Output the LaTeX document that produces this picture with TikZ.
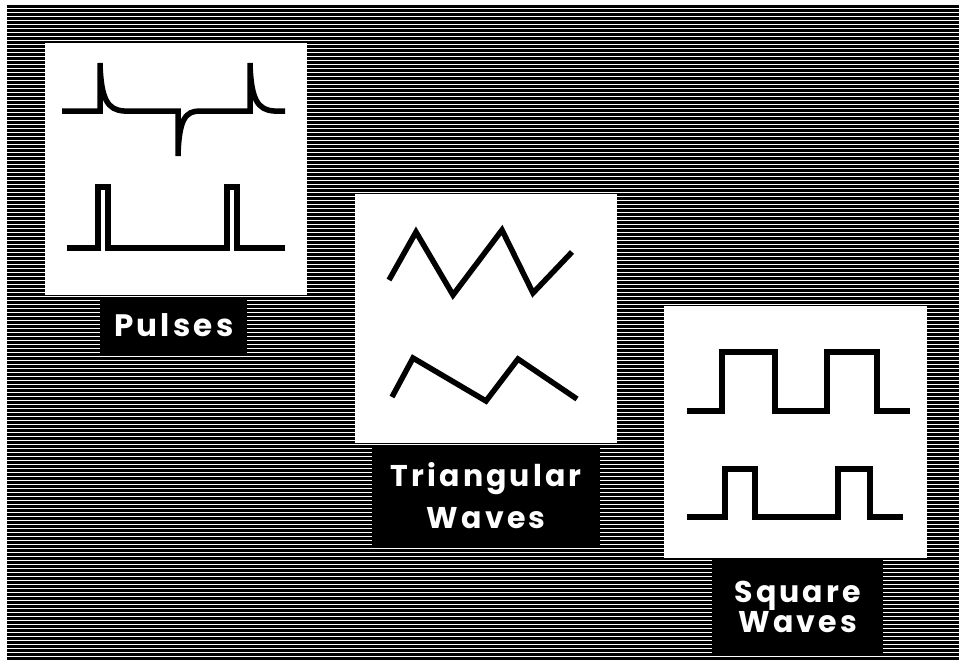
\documentclass[tikz,border=0pt]{standalone}
\usepackage{fontspec}
\newfontfamily\tagfont{Poppins}[LetterSpace=10.5]
\usetikzlibrary{positioning}

\tikzset{
  panel/.style={fill=white, inner sep=0pt, anchor=north west},
  tag/.style={fill=black, text=white, inner sep=0pt, align=center},
  wave/.style={line width=5.5pt, line join=miter},
}

\begin{document}
\begin{tikzpicture}[x=1pt, y=-1pt]
  \useasboundingbox (0,0) rectangle (959,665);
  % striped backdrop
  \fill[black] (7,5) rectangle (959,660);
  \foreach \y in {5,9,...,657} {
    \fill[white] (7,{\y+2.8}) rectangle (959,{\y+4});
  }

  % the three panels
  \node[panel, minimum width=262pt, minimum height=252pt] (pulses) at (45,43) {};
  \node[panel, minimum width=262pt, minimum height=249pt] (tri) at (355,194) {};
  \node[panel, minimum width=263pt, minimum height=252pt] (square) at (664,306) {};

  % labels
  \node[tag, minimum width=147pt, minimum height=55pt, below=2pt of pulses, xshift=-2.5pt,
    font=\tagfont\bfseries\fontsize{31}{36}\selectfont] (pulsestag) {Pulses};
  \node[tag, minimum width=228pt, minimum height=100pt, below=2pt of tri,
    font=\tagfont\bfseries\fontsize{30}{42}\selectfont] (tritag) {Triangular\\Waves};
  \node[tag, minimum width=171pt, minimum height=97pt, below=0pt of square, xshift=2pt,
    font=\tagfont\bfseries\fontsize{30}{29}\selectfont] (squaretag) {Square\\Waves};

  % pulses
  \draw[wave] (62,111) -- (100,111) -- (100,63) .. controls (101,100) and (108,110) .. (124,111)
    -- (178,111) -- (178,156) .. controls (179,118) and (186,111) .. (200,111)
    -- (250,111) -- (250,63) .. controls (251,100) and (258,110) .. (274,111) -- (285,111);
  \draw[wave] (67,248) -- (98,248) -- (98,187) -- (108,187) -- (108,248) -- (227,248)
    -- (227,187) -- (237,187) -- (237,248) -- (285,248);

  % triangular waves
  \draw[wave] (389,280) -- (416,232) -- (453,295) -- (502,230) -- (533,293) -- (572,252);
  \draw[wave] (392,397) -- (413,358) -- (486,401) -- (518,359) -- (577,399);

  % square waves
  \draw[wave] (687,411) -- (722,411) -- (722,352) -- (775,352) -- (775,411) -- (827,411)
    -- (827,352) -- (877,352) -- (877,411) -- (910,411);
  \draw[wave] (687,517) -- (725,517) -- (725,469) -- (755,469) -- (755,517) -- (838,517)
    -- (838,469) -- (870,469) -- (870,517) -- (903,517);
\end{tikzpicture}
\end{document}
